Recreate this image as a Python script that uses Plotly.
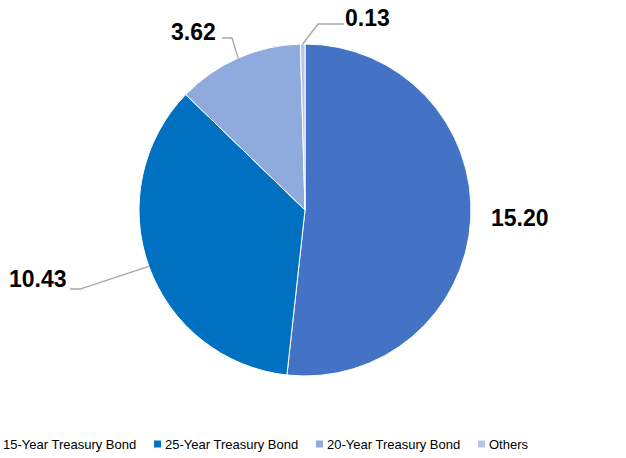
import math
import plotly.graph_objects as go

labels = ["15-Year Treasury Bond", "25-Year Treasury Bond", "20-Year Treasury Bond", "Others"]
values = [15.20, 10.43, 3.62, 0.13]
value_text = ["15.20", "10.43", "3.62", "0.13"]
colors = ["#4472C4", "#0070C0", "#8FAADC", "#B4C7E7"]

W, H = 626, 458
CX, CY, R = 305, 210, 166

fig = go.Figure(go.Pie(
    labels=labels, values=values, sort=False, direction="clockwise", rotation=0,
    marker=dict(colors=colors, line=dict(color="white", width=1)),
    textinfo="none", hoverinfo="label+value", showlegend=False,
    domain=dict(x=[(CX - R) / W, (CX + R) / W], y=[(H - CY - R) / H, (H - CY + R) / H]),
))

def px2paper(x, y):
    return x / W, (H - y) / H

label_style = [
    dict(lx=520, ly=218, line=None),
    dict(lx=38, ly=279, line=[(80, 289), (70, 289)]),
    dict(lx=193, ly=32, line=[(232, 38), (222, 38)]),
    dict(lx=367, ly=18, line=[(318, 24), (344, 24)]),
]

total = sum(values)
cum = 0.0
shapes = []
annotations = []
for v, t, st in zip(values, value_text, label_style):
    mid = (cum + v / 2) / total * 2 * math.pi
    cum += v
    ex = CX + R * math.sin(mid)
    ey = CY - R * math.cos(mid)
    if st["line"]:
        pts = [(ex, ey)] + st["line"]
        path = "M " + " L ".join(f"{px2paper(x, y)[0]:.5f},{px2paper(x, y)[1]:.5f}" for x, y in pts)
        shapes.append(dict(type="path", xref="paper", yref="paper", path=path,
                           line=dict(color="#A6A6A6", width=1.3)))
    ax, ay = px2paper(st["lx"], st["ly"])
    annotations.append(dict(x=ax, y=ay, xref="paper", yref="paper", text=t, showarrow=False,
                            font=dict(family="Liberation Sans, Arial", size=23, color="#000000",
                                      weight="bold"),
                            xanchor="center", yanchor="middle"))

# manual legend
leg_x0, leg_step, leg_y = -8, 162, 444
for i, (lab, col) in enumerate(zip(labels, colors)):
    sx = leg_x0 + i * leg_step
    x0, y0 = px2paper(sx, leg_y - 3.5)
    x1, y1 = px2paper(sx + 7, leg_y + 3.5)
    shapes.append(dict(type="rect", xref="paper", yref="paper", x0=x0, x1=x1, y0=y1, y1=y0,
                       fillcolor=col, line=dict(width=0)))
    tx, ty = px2paper(sx + 9, leg_y)
    annotations.append(dict(x=tx, y=ty, xref="paper", yref="paper", text=lab, showarrow=False,
                            font=dict(family="Liberation Sans, Arial", size=13, color="#000000"),
                            xanchor="left", yanchor="middle"))

fig.update_layout(
    width=W, height=H, margin=dict(l=0, r=0, t=0, b=0),
    paper_bgcolor="white", plot_bgcolor="white",
    shapes=shapes, annotations=annotations,
)

fig.write_html("out.html", config={"displayModeBar": False},
               post_script="document.body.style.margin='0';document.body.style.overflow='hidden';")
